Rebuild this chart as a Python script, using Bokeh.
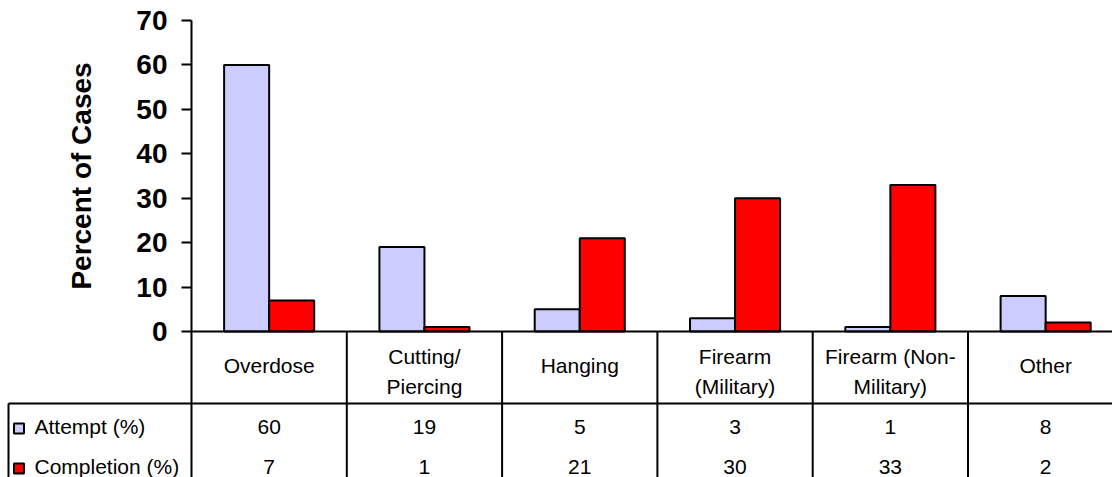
from bokeh.plotting import figure
from bokeh.models import Range1d, LinearAxis, FixedTicker
from bokeh.core.properties import value
from bokeh.embed import file_html
from bokeh.resources import INLINE

# ---- data ----
categories = ["Overdose", "Cutting/\nPiercing", "Hanging", "Firearm\n(Military)",
              "Firearm (Non-\nMilitary)", "Other"]
attempt = [60, 19, 5, 3, 1, 8]
completion = [7, 1, 21, 30, 33, 2]
series_names = ["Attempt (%)", "Completion (%)"]
series_colors = ["#CCCCFF", "#FF0000"]
y_ticks = [0, 10, 20, 30, 40, 50, 60, 70]
y_title = "Percent of Cases"

# ---- layout (pixels) ----
W, H = 1112, 477
AX_X = 191.0      # pixel x of value axis
CAT_W = 155.3     # pixel width of one category
Y0 = 331.0        # pixel y of value 0
YTOP = 20.0       # pixel y of value 70
ppu = (Y0 - YTOP) / 70.0
x_start = -AX_X / CAT_W
x_end = (W - AX_X) / CAT_W
y_end = 70 + YTOP / ppu
y_start = -(H - Y0) / ppu

def px_to_y(py):
    return -(py - Y0) / ppu

def px_to_x(px):
    return (px - AX_X) / CAT_W

FONT = "Liberation Sans"
LW = 2

p = figure(width=W, height=H, x_range=Range1d(x_start, x_end),
           y_range=Range1d(y_start, y_end), output_backend="svg",
           toolbar_location=None, x_axis_type=None, y_axis_type=None,
           min_border=0, outline_line_color=None)
p.background_fill_color = "white"
p.border_fill_color = "white"

n = len(categories)
idx = list(range(n))
bw = 0.29
p.vbar(x=[i + 0.5 - bw / 2 for i in idx], top=attempt, bottom=0, width=bw,
       fill_color=series_colors[0], line_color="black", line_width=LW)
p.vbar(x=[i + 0.5 + bw / 2 for i in idx], top=completion, bottom=0, width=bw,
       fill_color=series_colors[1], line_color="black", line_width=LW)

# value axis
yax = LinearAxis(fixed_location=0, bounds=(0, 70), ticker=FixedTicker(ticks=y_ticks))
yax.axis_line_color = "black"
yax.axis_line_width = LW
yax.major_tick_line_color = "black"
yax.major_tick_line_width = LW
yax.major_tick_out = 10
yax.major_tick_in = 0
yax.minor_tick_line_color = None
yax.major_label_text_font = FONT
yax.major_label_text_font_style = "bold"
yax.major_label_text_font_size = "28px"
yax.major_label_text_color = "black"
yax.major_label_standoff = 14
yax.axis_label = y_title
yax.axis_label_text_font = FONT
yax.axis_label_text_font_style = "bold"
yax.axis_label_text_font_size = "28px"
yax.axis_label_text_color = "black"
yax.axis_label_standoff = 36
p.add_layout(yax, "left")

# category axis line
p.segment(x0=[0], y0=[0], x1=[x_end], y1=[0], line_color="black", line_width=LW)

# data table lines
row_line = px_to_y(403)
table_left = px_to_x(8)
p.segment(x0=idx + [n], y0=[0] * (n + 1), x1=idx + [n], y1=[y_start] * (n + 1),
          line_color="black", line_width=LW)
p.segment(x0=[table_left], y0=[row_line], x1=[x_end], y1=[row_line],
          line_color="black", line_width=LW)
p.segment(x0=[table_left], y0=[row_line], x1=[table_left], y1=[y_start],
          line_color="black", line_width=LW)

# category labels (one-line and two-line labels centred a little differently)
label_y = [px_to_y(371 if "\n" in c else 365) for c in categories]
p.text(x=[i + 0.5 for i in idx], y=label_y, text=categories,
       text_font=value(FONT), text_font_size="21px", text_align="center",
       text_baseline="middle", text_line_height=1.33, text_color="black")

# table values
row_ys = [px_to_y(426), px_to_y(466)]
for vals, ry in zip([attempt, completion], row_ys):
    p.text(x=[i + 0.5 for i in idx], y=[ry] * n, text=[str(v) for v in vals],
           text_font=value(FONT), text_font_size="21px", text_align="center",
           text_baseline="middle", text_color="black")

# legend keys in table
key_ys = [px_to_y(428), px_to_y(468)]
p.scatter(x=[px_to_x(18.5)] * 2, y=key_ys, marker="square", size=10,
          fill_color=series_colors, line_color="black", line_width=LW)
p.text(x=[px_to_x(34)] * 2, y=row_ys, text=series_names,
       text_font=value(FONT), text_font_size="21px", text_align="left",
       text_baseline="middle", text_color="black")

open("out.html", "w").write(file_html(p, INLINE))
